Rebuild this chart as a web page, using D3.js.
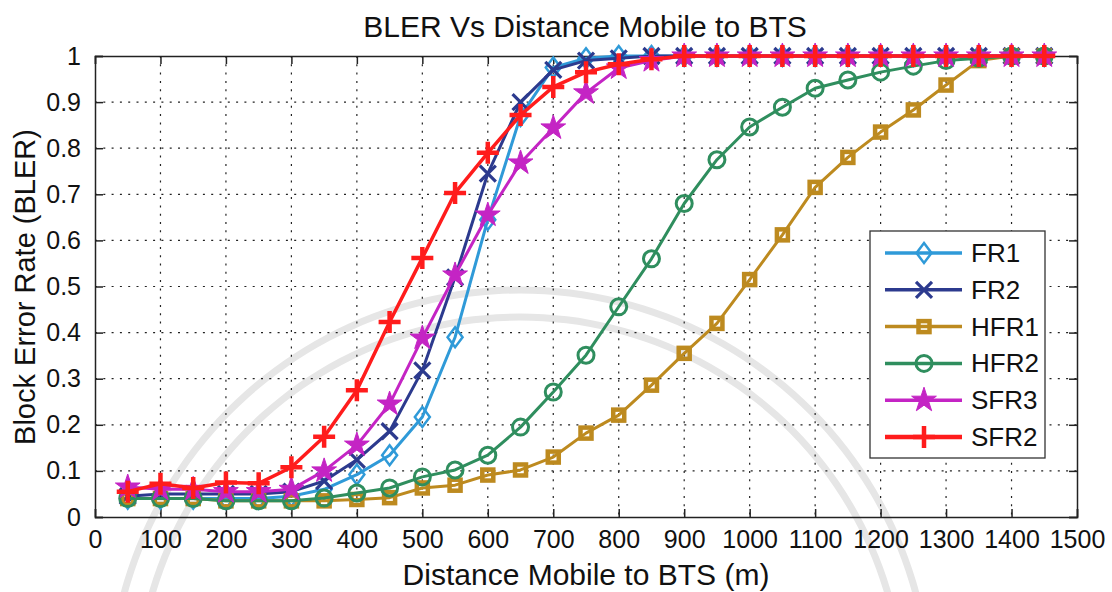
<!DOCTYPE html>
<html>
<head>
<meta charset="utf-8">
<script src="https://cdn.jsdelivr.net/npm/d3@7"></script>
<style>
    html, body { margin: 0; padding: 0; background: #fff; }
    svg text { font-family: "Liberation Sans", Arial, Helvetica, sans-serif; fill: #111; }
</style>
</head>
<body>
<div id="container"></div>
<script>
// distance from the BTS (m)
var distance = [50, 100, 150, 200, 250, 300, 350, 400, 450, 500, 550, 600, 650, 700, 750,
                800, 850, 900, 950, 1000, 1050, 1100, 1150, 1200, 1250, 1300, 1350, 1400, 1450];

var fr1  = [0.04, 0.04, 0.04, 0.04, 0.04, 0.045, 0.06, 0.092, 0.134, 0.217, 0.39, 0.645, 0.87, 0.975, 0.995,
            1, 1, 1, 1, 1, 1, 1, 1, 1, 1, 1, 1, 1, 1];
var fr2  = [0.045, 0.05, 0.05, 0.05, 0.05, 0.055, 0.078, 0.124, 0.186, 0.318, 0.52, 0.745, 0.9, 0.97, 0.99,
            0.995, 1, 1, 1, 1, 1, 1, 1, 1, 1, 1, 1, 1, 1];
var hfr1 = [0.04, 0.04, 0.04, 0.035, 0.035, 0.035, 0.035, 0.038, 0.042, 0.063, 0.069, 0.091, 0.102, 0.13, 0.182,
            0.221, 0.286, 0.355, 0.42, 0.515, 0.612, 0.715, 0.78, 0.835, 0.883, 0.937, 0.99, 1, 1];
var hfr2 = [0.04, 0.04, 0.04, 0.035, 0.035, 0.035, 0.041, 0.052, 0.063, 0.087, 0.102, 0.134, 0.195, 0.271, 0.351,
            0.456, 0.56, 0.68, 0.775, 0.846, 0.889, 0.93, 0.948, 0.965, 0.978, 0.99, 0.995, 1, 1];
var sfr3 = [0.065, 0.06, 0.06, 0.055, 0.055, 0.06, 0.1, 0.156, 0.245, 0.388, 0.525, 0.655, 0.768, 0.844, 0.92,
            0.974, 0.99, 1, 1, 1, 1, 1, 1, 1, 1, 1, 1, 1, 1];
var sfr2 = [0.055, 0.072, 0.063, 0.075, 0.073, 0.108, 0.174, 0.275, 0.423, 0.562, 0.703, 0.79, 0.872, 0.933, 0.965,
            0.982, 0.993, 1, 1, 1, 1, 1, 1, 1, 1, 1, 1, 1, 1];

var seriesNames = ["FR1", "FR2", "HFR1", "HFR2", "SFR3", "SFR2"];
var seriesValues = [fr1, fr2, hfr1, hfr2, sfr3, sfr2];

var xTicks = [0, 100, 200, 300, 400, 500, 600, 700, 800, 900, 1000, 1100, 1200, 1300, 1400, 1500];
var yTicks = [0, 0.1, 0.2, 0.3, 0.4, 0.5, 0.6, 0.7, 0.8, 0.9, 1];

var styles = {
    FR1:  {color: "#2f9ad8", marker: "diamond"},
    FR2:  {color: "#2c3a8e", marker: "cross"},
    HFR1: {color: "#bd8a1f", marker: "square"},
    HFR2: {color: "#2f8e5e", marker: "circle"},
    SFR3: {color: "#c424c4", marker: "star"},
    SFR2: {color: "#ff1c1c", marker: "plus"}
};

var W = 1112, H = 592,
    margin = {top: 56, right: 35, bottom: 75, left: 95},
    width = W - margin.left - margin.right,
    height = H - margin.top - margin.bottom;

var svg = d3.select("#container").append("svg")
    .attr("width", W)
    .attr("height", H);

svg.append("rect").attr("width", W).attr("height", H).attr("fill", "#fff");

// faint watermark arcs behind the plot
var wm = svg.append("g").attr("class", "watermark");
[410, 383].forEach(function(r) {
    wm.append("path")
        .attr("d", d3.arc()({innerRadius: r - 3.5, outerRadius: r + 3.5, startAngle: -1.95, endAngle: 1.95}))
        .attr("transform", "translate(520,700)")
        .attr("fill", "#e6e6e6");
});

var x = d3.scaleLinear().domain([0, 1500]).range([0, width]);
var y = d3.scaleLinear().domain([0, 1]).range([height, 0]);

var g = svg.append("g")
    .attr("transform", "translate(" + margin.left + "," + margin.top + ")");

// dotted grid
g.append("g").selectAll("line")
    .data(xTicks.slice(1, -1))
    .join("line")
    .attr("x1", function(d) { return x(d); })
    .attr("x2", function(d) { return x(d); })
    .attr("y1", 0).attr("y2", height)
    .attr("stroke", "#222").attr("stroke-width", 1.2)
    .attr("stroke-dasharray", "2,6.3");

g.append("g").selectAll("line")
    .data(yTicks.slice(1, -1))
    .join("line")
    .attr("y1", function(d) { return y(d); })
    .attr("y2", function(d) { return y(d); })
    .attr("x1", 0).attr("x2", width)
    .attr("stroke", "#222").attr("stroke-width", 1.2)
    .attr("stroke-dasharray", "2,6.3");

// axes, ticks point inward like matlab
var axisBottom = d3.axisBottom(x).tickValues(xTicks).tickSize(-8).tickPadding(13).tickFormat(d3.format("d"));
var axisTop = d3.axisTop(x).tickValues(xTicks).tickSize(-8).tickFormat("");
var axisLeft = d3.axisLeft(y).tickValues(yTicks).tickSize(-8).tickPadding(14).tickFormat(function(d) { return d; });
var axisRight = d3.axisRight(y).tickValues(yTicks).tickSize(-8).tickFormat("");

function styleAxis(sel) {
    sel.select(".domain").attr("stroke", "#222").attr("stroke-width", 1.5);
    sel.selectAll(".tick line").attr("stroke", "#222").attr("stroke-width", 1.5);
    sel.selectAll("text").style("font-size", "25px").attr("fill", "#111");
}

g.append("g").attr("transform", "translate(0," + height + ")").call(axisBottom).call(styleAxis);
g.append("g").call(axisTop).call(styleAxis);
g.append("g").call(axisLeft).call(styleAxis);
g.append("g").attr("transform", "translate(" + width + ",0)").call(axisRight).call(styleAxis);

// marker shapes
function drawMarker(sel, type, color) {
    if (type === "diamond") {
        sel.append("path").attr("d", "M0,-10L7.5,0L0,10L-7.5,0Z")
            .attr("fill", "none").attr("stroke", color).attr("stroke-width", 2.5);
    } else if (type === "cross") {
        sel.append("path").attr("d", "M-8,-8L8,8M-8,8L8,-8")
            .attr("fill", "none").attr("stroke", color).attr("stroke-width", 3.2);
    } else if (type === "square") {
        sel.append("rect").attr("x", -5.5).attr("y", -5.5).attr("width", 11).attr("height", 11)
            .attr("fill", "none").attr("stroke", color).attr("stroke-width", 4.5);
    } else if (type === "circle") {
        sel.append("circle").attr("r", 8)
            .attr("fill", "none").attr("stroke", color).attr("stroke-width", 3);
    } else if (type === "star") {
        sel.append("path").attr("d", d3.symbol(d3.symbolStar, 190)())
            .attr("fill", color).attr("stroke", color).attr("stroke-width", 1);
    } else if (type === "plus") {
        sel.append("path").attr("d", "M-11,0L11,0M0,-11L0,11")
            .attr("fill", "none").attr("stroke", color).attr("stroke-width", 4.5);
    }
}

var line = d3.line()
    .x(function(d) { return x(d[0]); })
    .y(function(d) { return y(d[1]); });

seriesNames.forEach(function(name, i) {
    var st = styles[name];
    var pts = distance.map(function(dd, j) { return [dd, seriesValues[i][j]]; });
    var sg = g.append("g").attr("class", "series " + name);

    sg.append("path")
        .datum(pts)
        .attr("d", line)
        .attr("fill", "none")
        .attr("stroke", st.color)
        .attr("stroke-width", name === "SFR2" ? 3.5 : 3)
        .attr("stroke-linejoin", "round");

    sg.selectAll("g.marker")
        .data(pts)
        .join("g")
        .attr("class", "marker")
        .attr("transform", function(d) { return "translate(" + x(d[0]) + "," + y(d[1]) + ")"; })
        .each(function() { drawMarker(d3.select(this), st.marker, st.color); });
});

// legend
var legend = svg.append("g").attr("transform", "translate(870,231)");
legend.append("rect")
    .attr("width", 175).attr("height", 227)
    .attr("fill", "#fff").attr("stroke", "#333").attr("stroke-width", 1.3);

seriesNames.forEach(function(name, i) {
    var st = styles[name];
    var row = legend.append("g").attr("transform", "translate(0," + (22 + i * 36.8) + ")");
    row.append("line")
        .attr("x1", 15).attr("x2", 92)
        .attr("stroke", st.color).attr("stroke-width", name === "SFR2" ? 4.5 : 3.5);
    drawMarker(row.append("g").attr("transform", "translate(54,0)"), st.marker, st.color);
    row.append("text")
        .attr("x", 101).attr("y", 9)
        .style("font-size", "26px")
        .text(name);
});

// titles
svg.append("text")
    .attr("x", 585).attr("y", 37)
    .attr("text-anchor", "middle")
    .style("font-size", "30px")
    .text("BLER Vs Distance Mobile to BTS");

svg.append("text")
    .attr("x", 586).attr("y", 585)
    .attr("text-anchor", "middle")
    .style("font-size", "30px")
    .text("Distance Mobile to BTS (m)");

svg.append("text")
    .attr("transform", "translate(35,287)rotate(-90)")
    .attr("text-anchor", "middle")
    .style("font-size", "29px")
    .text("Block Error Rate (BLER)");
</script>
</body>
</html>
